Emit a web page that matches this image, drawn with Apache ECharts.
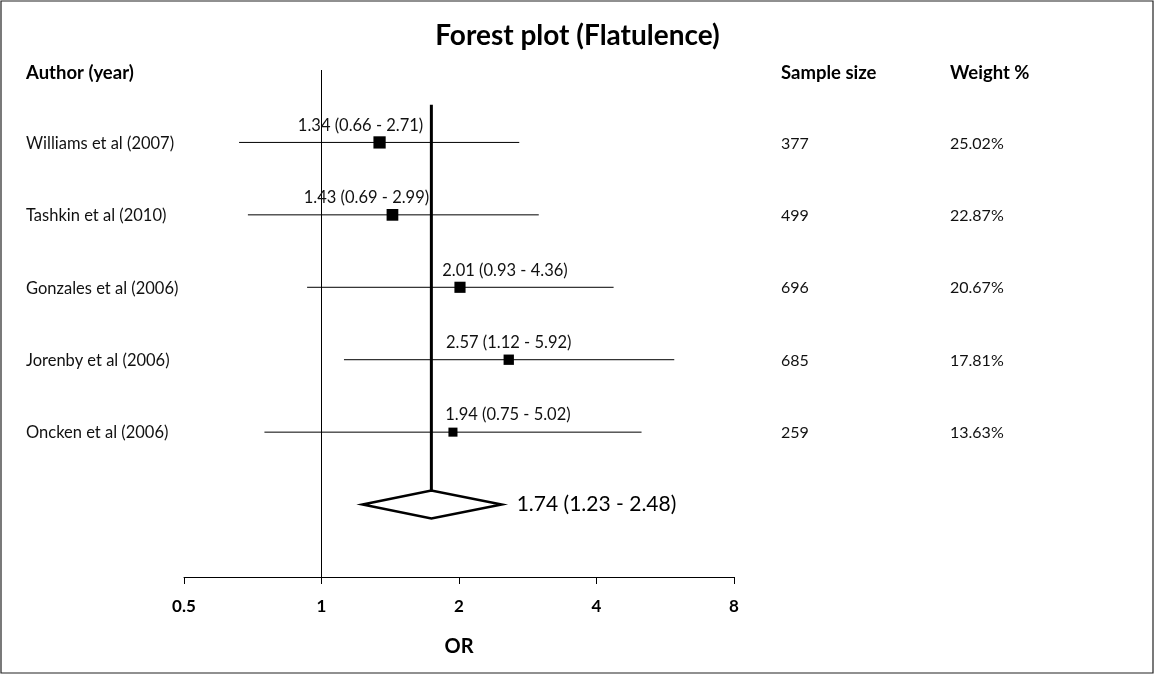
<!DOCTYPE html>
<html>
<head>
<meta charset="utf-8">
<script src="https://cdn.jsdelivr.net/npm/echarts@6/dist/echarts.min.js"></script>
<style>
  html, body { margin: 0; padding: 0; background: #fff; }
  #container { width: 1155px; height: 675px; }
</style>
</head>
<body>
<div id="container"></div>
<script>
// studies, top to bottom
var studies = ["Williams et al (2007)", "Tashkin et al (2010)", "Gonzales et al (2006)", "Jorenby et al (2006)", "Oncken et al (2006)"];
var orValues = [1.34, 1.43, 2.01, 2.57, 1.94];
var ciLow = [0.66, 0.69, 0.93, 1.12, 0.75];
var ciHigh = [2.71, 2.99, 4.36, 5.92, 5.02];
var sampleSize = [377, 499, 696, 685, 259];
var weights = [25.02, 22.87, 20.67, 17.81, 13.63];

// pooled estimate
var pooledOR = 1.74;
var pooledLow = 1.23;
var pooledHigh = 2.48;

var xTicks = [0.5, 1, 2, 4, 8];

// row index on the y axis (header = 7, pooled = 1)
var headerRow = 7;
var pooledRow = 1;
function rowOf(i) { return 6 - i; }

// label shifts (px) for the study estimate texts
var labelShift = [-19, -26, 45, 0, 55];

var font = "Lato";

var dom = document.getElementById("container");
var myChart = echarts.init(dom);

var squares = [];
var bars = [];
var sideCols = [];
for (var i = 0; i < studies.length; i++) {
    squares.push({
        value: [orValues[i], rowOf(i)],
        symbolSize: 2.45 * Math.sqrt(weights[i]),
        label: {
            show: true,
            position: 'inside',
            offset: [labelShift[i], -17],
            formatter: orValues[i].toFixed(2) + ' (' + ciLow[i].toFixed(2) + ' - ' + ciHigh[i].toFixed(2) + ')'
        }
    });
    bars.push([ciLow[i], ciHigh[i], rowOf(i)]);
    sideCols.push({ value: [0, rowOf(i)], label: { formatter: String(sampleSize[i]), offset: [0, 1] } });
    sideCols.push({ value: [1, rowOf(i)], label: { formatter: weights[i].toFixed(2) + '%', offset: [0, 1] } });
}
sideCols.push({ value: [0, headerRow], label: { formatter: 'Sample size', fontWeight: 'bold', fontSize: 18.5, color: '#000', offset: [0, 3] } });
sideCols.push({ value: [1, headerRow], label: { formatter: 'Weight %', fontWeight: 'bold', fontSize: 18.5, color: '#000', offset: [0, 3] } });

var option = {
    animation: false,
    backgroundColor: '#fff',
    title: {
        text: 'Forest plot (Flatulence)',
        left: 'center',
        top: 17,
        textStyle: { fontFamily: font, fontSize: 28, fontWeight: 'bold', color: '#000' }
    },
    graphic: [{
        type: 'rect',
        shape: { x: 1, y: 1, width: 1152, height: 672 },
        style: { fill: 'none', stroke: '#222', lineWidth: 1.2 },
        silent: true
    }],
    grid: [
        { left: 184, right: 421, top: 70, bottom: 98 },
        { left: 781, width: 169, top: 70, bottom: 98 }
    ],
    xAxis: [{
        type: 'log',
        logBase: 2,
        min: 0.5,
        max: 8,
        interval: 1,
        gridIndex: 0,
        name: 'OR',
        nameLocation: 'middle',
        nameGap: 60,
        nameTextStyle: { fontFamily: font, fontSize: 20, fontWeight: 'bold', color: '#000' },
        axisLine: { lineStyle: { color: '#000', width: 1 } },
        axisTick: { show: true, length: 7, lineStyle: { color: '#000' } },
        axisLabel: {
            margin: 21,
            fontFamily: font, fontSize: 17, fontWeight: 'bold', color: '#000',
            formatter: function (v) {
                for (var k = 0; k < xTicks.length; k++) {
                    if (Math.abs(v - xTicks[k]) < 1e-6) return String(xTicks[k]);
                }
                return '';
            }
        },
        splitLine: { show: false }
    }, {
        type: 'value', min: 0, max: 1, gridIndex: 1, show: false
    }],
    yAxis: [{
        type: 'value',
        min: 0,
        max: 7,
        interval: 1,
        gridIndex: 0,
        axisLine: { show: false },
        axisTick: { show: false },
        splitLine: { show: false },
        axisLabel: {
            margin: 158,
            align: 'left',
            fontFamily: font, fontSize: 16.5, color: '#111',
            formatter: function (v) {
                if (v === headerRow) return '{h|Author (year)}';
                var idx = 6 - v;
                if (idx >= 0 && idx < studies.length) return '{s|' + studies[idx] + '}';
                return '';
            },
            rich: {
                h: { fontFamily: font, fontSize: 18.5, fontWeight: 'bold', color: '#000', padding: [6, 0, 0, 0] },
                s: { fontFamily: font, fontSize: 16.5, color: '#111', padding: [2, 0, 0, 0] }
            }
        }
    }, {
        type: 'value', min: 0, max: 7, gridIndex: 1, show: false
    }],
    series: [
        // reference line at OR = 1
        {
            type: 'line',
            xAxisIndex: 0, yAxisIndex: 0,
            data: [[1, 0], [1, headerRow]],
            symbol: 'none',
            lineStyle: { color: '#000', width: 1 },
            silent: true
        },
        // pooled estimate line
        {
            type: 'line',
            xAxisIndex: 0, yAxisIndex: 0,
            data: [[pooledOR, pooledRow + 0.19], [pooledOR, 6.52]],
            symbol: 'none',
            lineStyle: { color: '#000', width: 3 },
            silent: true
        },
        // confidence intervals
        {
            type: 'custom',
            xAxisIndex: 0, yAxisIndex: 0,
            data: bars,
            renderItem: function (params, api) {
                var a = api.coord([api.value(0), api.value(2)]);
                var b = api.coord([api.value(1), api.value(2)]);
                return {
                    type: 'line',
                    shape: { x1: a[0], y1: a[1], x2: b[0], y2: b[1] },
                    style: { stroke: '#000', lineWidth: 1 }
                };
            },
            z: 3
        },
        // study squares
        {
            type: 'scatter',
            xAxisIndex: 0, yAxisIndex: 0,
            symbol: 'rect',
            itemStyle: { color: '#000', opacity: 1 },
            label: { fontFamily: font, fontSize: 16.5, color: '#111' },
            data: squares,
            z: 5
        },
        // pooled diamond
        {
            type: 'custom',
            xAxisIndex: 0, yAxisIndex: 0,
            data: [[pooledLow, pooledOR, pooledHigh, pooledRow]],
            renderItem: function (params, api) {
                var l = api.coord([api.value(0), api.value(3)]);
                var c = api.coord([api.value(1), api.value(3)]);
                var r = api.coord([api.value(2), api.value(3)]);
                var h = 14;
                return {
                    type: 'group',
                    children: [{
                        type: 'polygon',
                        shape: { points: [[l[0], l[1]], [c[0], c[1] - h], [r[0], r[1]], [c[0], c[1] + h]] },
                        style: { fill: '#fff', stroke: '#000', lineWidth: 2.5 }
                    }, {
                        type: 'text',
                        x: r[0] + 15,
                        y: r[1],
                        style: {
                            text: pooledOR.toFixed(2) + ' (' + pooledLow.toFixed(2) + ' - ' + pooledHigh.toFixed(2) + ')',
                            fontFamily: font, fontSize: 21, fill: '#000',
                            align: 'left', verticalAlign: 'middle'
                        }
                    }]
                };
            },
            z: 6
        },
        // sample size and weight columns
        {
            type: 'scatter',
            xAxisIndex: 1, yAxisIndex: 1,
            symbolSize: 0,
            itemStyle: { opacity: 1 },
            label: {
                show: true,
                position: 'right',
                distance: 0,
                fontFamily: font, fontSize: 16, color: '#111'
            },
            data: sideCols
        }
    ]
};

if (option && typeof option === 'object') {
    myChart.setOption(option);
}
</script>
</body>
</html>
